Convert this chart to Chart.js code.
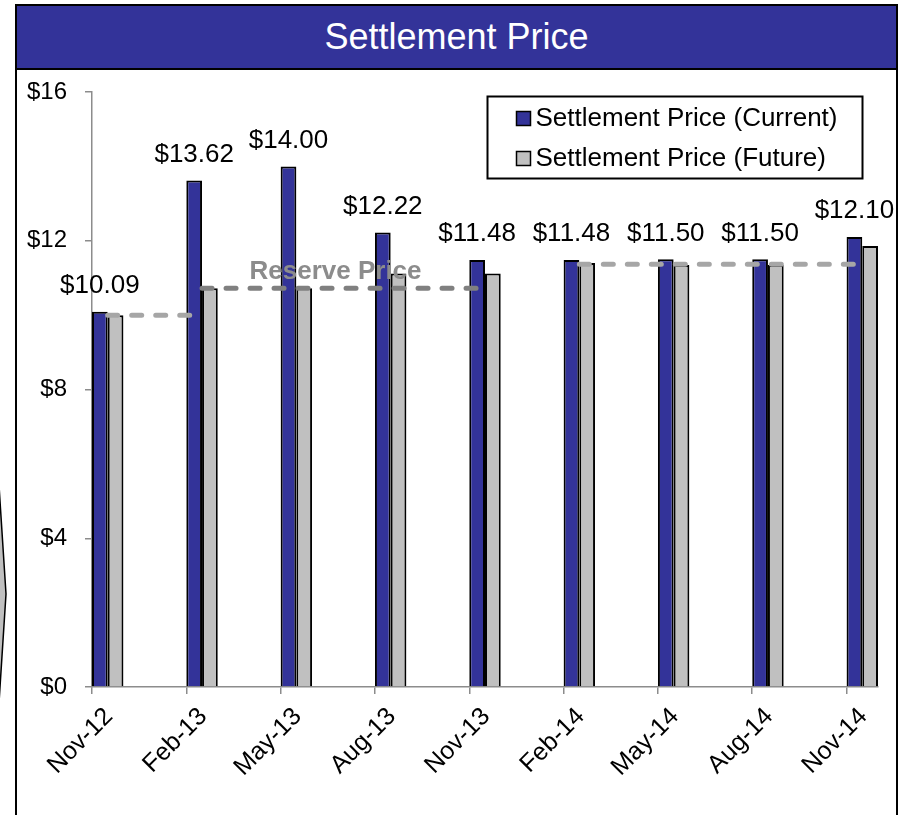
<!DOCTYPE html>
<html>
<head>
<meta charset="utf-8">
<script src="https://cdn.jsdelivr.net/npm/chart.js@4.4.0/dist/chart.umd.min.js"></script>
<style>
html,body{margin:0;padding:0;background:#fff;width:902px;height:815px;overflow:hidden;}
#frame{position:absolute;left:15px;top:4px;width:879px;height:840px;border:2px solid #000;}
#title{position:absolute;left:0;top:0;width:100%;height:62px;background:#333399;border-bottom:2px solid #000;color:#fff;font:36px 'Liberation Sans',Arial,sans-serif;text-align:center;line-height:62px;}
#deco{position:absolute;left:0;top:0;}
#chart{position:absolute;left:0;top:0;}
</style>
</head>
<body>
<svg id="deco" width="20" height="815"><polygon points="-2,470 6,594 -2,718" fill="#c0c0c0" stroke="#000" stroke-width="1.5"/></svg>
<div id="frame"><div id="title">Settlement Price</div></div>
<canvas id="chart" width="902" height="815"></canvas>
<script>
// ---- data ----
const months = ['Nov-12','Feb-13','May-13','Aug-13','Nov-13','Feb-14','May-14','Aug-14','Nov-14'];
const currentPrice = [10.09, 13.62, 14.00, 12.22, 11.48, 11.48, 11.50, 11.50, 12.10];
const futurePrice  = [10.00, 10.72, 10.72, 11.12, 11.12, 11.40, 11.35, 11.35, 11.86];
const reservePrior   = [10.00, 10.00, null, null, null, null, null, null, null];
const reserveCurrent = [null, 10.72, 10.72, 10.72, 10.72, null, null, null, null];
const reserveFuture  = [null, null, null, null, null, 11.37, 11.37, 11.37, 11.37];
const yTickValues = [0, 4, 8, 12, 16];
const seriesNames = ['Settlement Price (Current)', 'Settlement Price (Future)'];
const seriesColors = ['#333399', '#C0C0C0'];
const reserveLabel = 'Reserve Price';

// monthly date axis, quarterly observations
const MONTHS_PER_STEP = 3;
const AXIS_MONTHS = 25;
const xOf = i => i * MONTHS_PER_STEP + 0.5;
const toPoints = arr => arr.map((v, i) => v == null ? null : {x: xOf(i), y: v}).filter(p => p);

const FONT = "'Liberation Sans', Arial, sans-serif";
Chart.defaults.font.family = FONT;
Chart.defaults.color = '#000';

const valueLabels = {
  id: 'valueLabels',
  afterDatasetsDraw(chart) {
    const ctx = chart.ctx;
    const meta = chart.getDatasetMeta(0);
    ctx.save();
    ctx.font = '26px ' + FONT;
    ctx.fillStyle = '#000';
    ctx.textAlign = 'center';
    ctx.textBaseline = 'middle';
    meta.data.forEach((bar, i) => {
      ctx.fillText('$' + currentPrice[i].toFixed(2), bar.x, bar.y - 26);
    });
    // reserve price caption
    const pts = chart.getDatasetMeta(3).data;
    const mx = (pts[0].x + pts[pts.length - 1].x) / 2 - 8;
    ctx.font = 'bold 26px ' + FONT;
    ctx.fillStyle = '#8c8c8c';
    ctx.fillText(reserveLabel, mx, pts[0].y - 17);
    ctx.restore();
  }
};

const legendPlacer = {
  id: 'legendPlacer',
  afterLayout(chart) {
    const lg = chart.legend;
    const ca = chart.chartArea;
    lg.left = ca.right - 383.5;
    lg.top = ca.top - 0.5;
    lg.right = lg.left + 420;
    lg.bottom = lg.top + 200;
  },
  afterDraw(chart) {
    const lg = chart.legend;
    const ctx = chart.ctx;
    ctx.save();
    // legend swatches, placed close to their texts
    lg.legendHitBoxes.forEach((hb, i) => {
      const textX = hb.left + 14 + 13;
      const cy = hb.top + hb.height / 2;
      ctx.fillStyle = seriesColors[i];
      ctx.fillRect(textX - 19, cy - 7, 14, 14);
      ctx.strokeStyle = '#000';
      ctx.lineWidth = 1.5;
      ctx.strokeRect(textX - 19, cy - 7, 14, 14);
    });
    ctx.strokeStyle = '#000';
    ctx.lineWidth = 2;
    ctx.strokeRect(487.5, 96.5, 375, 82);
    ctx.restore();
  }
};

const lineStyle = (color) => ({
  type: 'line',
  borderColor: color,
  borderWidth: 5,
  borderDash: [10, 14],
  borderCapStyle: 'round',
  pointRadius: 0,
  fill: false,
  order: -1,
  tension: 0
});

new Chart(document.getElementById('chart'), {
  data: {
    datasets: [
      {type: 'bar', label: seriesNames[0], data: toPoints(currentPrice),
       backgroundColor: seriesColors[0], borderColor: '#000', borderWidth: 2,
       categoryPercentage: 1 / 3, barPercentage: 1},
      {type: 'bar', label: seriesNames[1], data: toPoints(futurePrice),
       backgroundColor: seriesColors[1], borderColor: '#000', borderWidth: 2,
       categoryPercentage: 1 / 3, barPercentage: 1},
      Object.assign({label: 'Reserve (prior)', data: toPoints(reservePrior)}, lineStyle('#a6a6a6')),
      Object.assign({label: 'Reserve (current)', data: toPoints(reserveCurrent)}, lineStyle('#808080')),
      Object.assign({label: 'Reserve (future)', data: toPoints(reserveFuture)}, lineStyle('#a6a6a6'))
    ]
  },
  options: {
    responsive: false,
    animation: false,
    devicePixelRatio: 1,
    layout: {padding: {left: 18, top: 92, right: 24, bottom: 0}},
    scales: {
      x: {
        type: 'linear', min: 0, max: AXIS_MONTHS, offset: false,
        afterBuildTicks: s => { s.ticks = months.map((m, i) => ({value: i * MONTHS_PER_STEP})); },
        afterFit: s => { s.height = 128; },
        ticks: {
          callback: (v, i) => months[i],
          autoSkip: false, minRotation: 45, maxRotation: 45,
          labelOffset: 17, padding: 8,
          font: {size: 25}, color: '#000'
        },
        grid: {drawOnChartArea: false, offset: false, tickLength: 7, color: '#8c8c8c', lineWidth: 1.5},
        border: {color: '#8c8c8c', width: 1.5}
      },
      y: {
        min: 0, max: 16,
        afterBuildTicks: s => { s.ticks = yTickValues.map(v => ({value: v})); },
        afterFit: s => { s.width = 74; },
        ticks: {callback: v => '$' + v, font: {size: 24}, color: '#000', padding: 18},
        grid: {drawOnChartArea: false, tickLength: 7, color: '#8c8c8c', lineWidth: 1.5},
        border: {color: '#8c8c8c', width: 1.5}
      }
    },
    plugins: {
      title: {display: false},
      tooltip: {enabled: false},
      legend: {
        position: 'chartArea',
        fullSize: false,
        align: 'start',
        labels: {
          font: {size: 26}, color: '#000', boxWidth: 14, boxHeight: 14, padding: 14,
          filter: item => item.datasetIndex < 2,
          generateLabels: chart => Chart.defaults.plugins.legend.labels.generateLabels(chart)
            .map(l => Object.assign(l, {fillStyle: 'rgba(0,0,0,0)', strokeStyle: 'rgba(0,0,0,0)', lineWidth: 0}))
        }
      }
    }
  },
  plugins: [valueLabels, legendPlacer]
});
</script>
</body>
</html>
